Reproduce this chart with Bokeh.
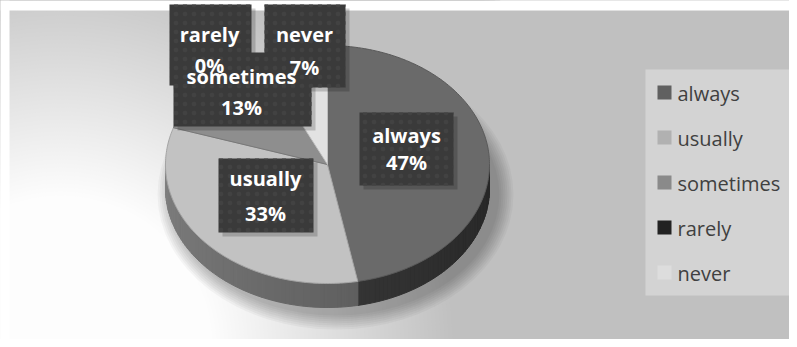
import numpy as np
from bokeh.plotting import figure
from bokeh.models import Range1d
from bokeh.core.properties import value
from bokeh.embed import file_html
from bokeh.resources import INLINE

# ---------------- data ----------------
categories = ["always", "usually", "sometimes", "rarely", "never"]
percents = [47, 33, 13, 0, 7]

# ---------------- styles ----------------
top_colors = ["#6a6a6a", "#c2c2c2", "#8e8e8e", "#232323", "#e2e2e2"]
legend_colors = ["#606060", "#b1b1b1", "#8a8a8a", "#222222", "#dddddd"]
FONT = "Open Sans"

# label layout (pixels): left, right, top, bottom, text x, line1 y, line2 y
label_layout = {
    "always":    (359, 453, 112, 185, 406, 135, 162),
    "usually":   (218, 313, 158, 232, 265, 178, 213),
    "sometimes": (173, 311, 52, 126, 241, 76, 107),
    "rarely":    (169, 251, 4, 85, 209, 34, 65),
    "never":     (264, 345, 4, 87, 304, 34, 67),
}

W, H = 789, 339
p = figure(width=W, height=H, x_range=Range1d(0, W), y_range=Range1d(H, 0),
           output_backend="svg", toolbar_location=None, min_border=0,
           x_axis_type=None, y_axis_type=None)
p.outline_line_color = None
p.grid.visible = False
p.background_fill_color = "#c0c0c0"
p.border_fill_color = "white"

# ---------------- background radial gradient ----------------
gcx, gcy = 60, 347
radii = np.arange(560, 148, -4)
def gshade(r):
    v = int(round(max(192, min(255, 255 - 0.25 * (r - 145)))))
    return "#%02x%02x%02x" % (v, v, v)
p.circle(x=[gcx] * len(radii), y=[gcy] * len(radii), radius=list(radii),
         fill_color=[gshade(r) for r in radii], line_color=None)
# white page strips around the chart area
p.quad(left=[0, 0], right=[W, 9], top=[0, 0], bottom=[10, H],
       fill_color="white", line_color=None)

# ---------------- 3D pie ----------------
cx, cy, rx, ry, depth = 327, 164, 162, 119, 24

def pt(theta_deg, dy=0):
    t = np.radians(theta_deg)
    return cx + rx * np.sin(t), cy - ry * np.cos(t) + dy

def shade(hexcol, f):
    h = hexcol.lstrip("#")
    r, g, b = (int(h[i:i + 2], 16) for i in (0, 2, 4))
    return "#%02x%02x%02x" % tuple(int(max(0, min(255, c * f))) for c in (r, g, b))

total = float(sum(percents))
bounds = np.concatenate([[0.0], np.cumsum(percents) / total * 360.0])

# soft shadow
for k in range(16, 0, -2):
    p.ellipse(x=[cx + 8], y=[cy + depth + 6], width=[2 * (rx + k)], height=[2 * (ry + k)],
              fill_color="black", fill_alpha=0.035, line_color=None)

# side walls
sx, sy, sc = [], [], []
for i, c in enumerate(categories):
    a, b = bounds[i], bounds[i + 1]
    lo, hi = max(a, 90.0), min(b, 270.0)
    if hi <= lo:
        continue
    n = max(2, int((hi - lo) / 1.5))
    ths = np.linspace(lo, hi, n + 1)
    for t1, t2 in zip(ths[:-1], ths[1:]):
        x1, y1 = pt(t1)
        x2, y2 = pt(t2)
        sx.append([x1, x2, x2, x1])
        sy.append([y1, y2, y2 + depth, y1 + depth])
        tm = 0.5 * (t1 + t2)
        f = 0.36 + 0.30 * (tm - 90) / 180.0
        sc.append(shade(top_colors[i], f))
p.patches(xs=sx, ys=sy, fill_color=sc, line_color=sc, line_width=1)

# top faces
tx, ty, tc, tl = [], [], [], []
for i, c in enumerate(categories):
    a, b = bounds[i], bounds[i + 1]
    if b - a <= 0:
        continue
    ths = np.linspace(a, b, max(3, int(b - a)))
    xs = [cx] + [pt(t)[0] for t in ths]
    ys = [cy] + [pt(t)[1] for t in ths]
    tx.append(xs); ty.append(ys)
    tc.append(top_colors[i]); tl.append(shade(top_colors[i], 0.85))
p.patches(xs=tx, ys=ty, fill_color=tc, line_color=tl, line_width=1)

# ---------------- data labels ----------------
order = categories
L = [label_layout[c] for c in order]
p.quad(left=[l[0] + 4 for l in L], right=[l[1] + 4 for l in L],
       top=[l[2] + 4 for l in L], bottom=[l[3] + 4 for l in L],
       fill_color="black", fill_alpha=0.18, line_color=None)
p.quad(left=[l[0] for l in L], right=[l[1] for l in L],
       top=[l[2] for l in L], bottom=[l[3] for l in L],
       fill_color="#3a3a3a", line_color=None,
       hatch_pattern="dot", hatch_color="#424242", hatch_scale=9, hatch_weight=1)
line1 = order
line2 = ["%d%%" % percents[categories.index(c)] for c in order]
p.text(x=[l[4] for l in L], y=[l[5] for l in L], text=line1,
       text_font=value(FONT), text_font_style="bold", text_font_size="20px",
       text_color="white", text_align="center", text_baseline="middle")
p.text(x=[l[4] for l in L], y=[l[6] for l in L], text=line2,
       text_font=value(FONT), text_font_style="bold", text_font_size="20px",
       text_color="white", text_align="center", text_baseline="middle")

# ---------------- legend ----------------
p.quad(left=[645], right=[795], top=[69], bottom=[295], fill_color="#d3d3d3", line_color=None)
ly = [92 + 45 * i for i in range(len(categories))]
p.quad(left=[657] * len(ly), right=[671] * len(ly), top=[y - 7 for y in ly],
       bottom=[y + 7 for y in ly], fill_color=legend_colors, line_color=None)
p.text(x=[677] * len(ly), y=[y + 1 for y in ly], text=categories,
       text_font=value(FONT), text_font_size="20px", text_color="#404040",
       text_align="left", text_baseline="middle")

open("out.html", "w").write(file_html(p, INLINE))
